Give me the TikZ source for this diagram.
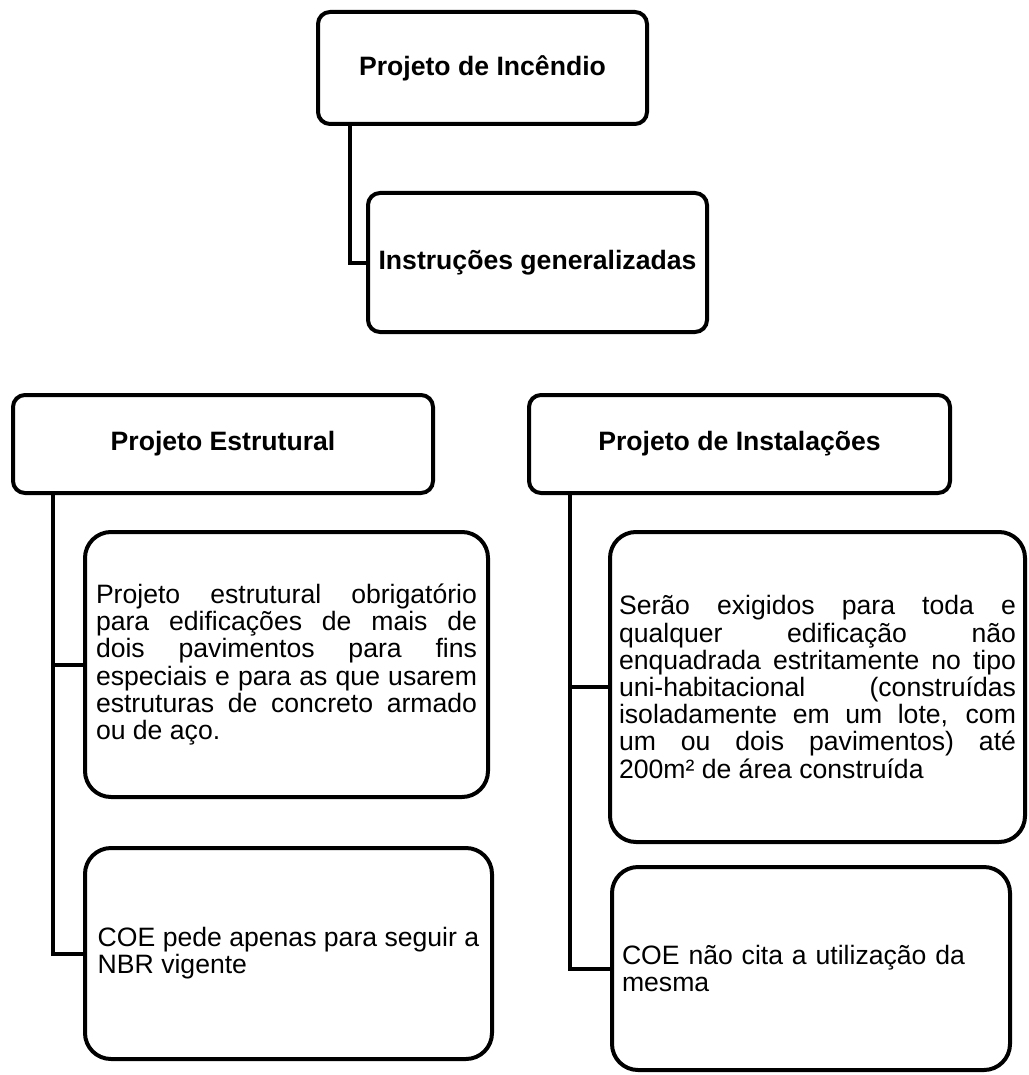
\documentclass[tikz,border=0pt]{standalone}
\usepackage{fontspec}
\setmainfont{Liberation Sans}
\tolerance=10000
\hyphenpenalty=10000
\begin{document}
\begin{tikzpicture}[x=1pt, y=-1pt, head/.style={draw, line width=4pt, rounded corners=12pt, align=center, font=\bfseries\fontsize{26.6}{27.2}\selectfont}, note/.style={draw, line width=4pt, rounded corners=26pt, inner sep=0pt, font=\fontsize{26.6}{27.2}\selectfont}, link/.style={line width=4pt}]
\useasboundingbox (0,0) rectangle (1028,1075);
\node[head, minimum width=329pt, minimum height=112pt](inc) at (482.5,68){Projeto de Incêndio};
\node[head, minimum width=339pt, minimum height=139pt](instr) at (537.5,262.5){Instruções generalizadas};
\node[head, minimum width=420pt, minimum height=98pt](estr) at (223,444){Projeto Estrutural};
\node[head, minimum width=421pt, minimum height=98pt](inst) at (739.5,444){Projeto de Instalações};
\node[note, text width=381pt, align=justify, minimum width=403pt, minimum height=265pt](estrA) at (286.5,664.5){Projeto estrutural obrigatório\linebreak para edificações de mais de\linebreak dois pavimentos para fins\linebreak especiais e para as que usarem\linebreak estruturas de concreto armado\linebreak ou de aço.};
\node[note, align=left, minimum width=407pt, minimum height=211pt](estrB) at (288.5,953.5){COE pede apenas para seguir a\\NBR vigente};
\node[note, text width=397pt, align=justify, minimum width=415pt, minimum height=310pt](instA) at (817.5,687){Serão exigidos para toda e\linebreak qualquer edificação não\linebreak enquadrada estritamente no tipo\linebreak uni-habitacional (construídas\linebreak isoladamente em um lote, com\linebreak um ou dois pavimentos) até\linebreak 200m² de área construída};
\node[note, text width=378pt, align=left, minimum width=398pt, minimum height=203pt](instB) at (811,968.5){COE não cita a utilização da\\mesma};
\draw[link] ([xshift=34pt]inc.south west) |- (instr.west);
\draw[link] ([xshift=42pt]estr.south west) |- (estrA.west);
\draw[link] ([xshift=42pt]estr.south west) |- (estrB.west);
\draw[link] ([xshift=43pt]inst.south west) |- (instA.west);
\draw[link] ([xshift=43pt]inst.south west) |- (instB.west);
\end{tikzpicture}
\end{document}
